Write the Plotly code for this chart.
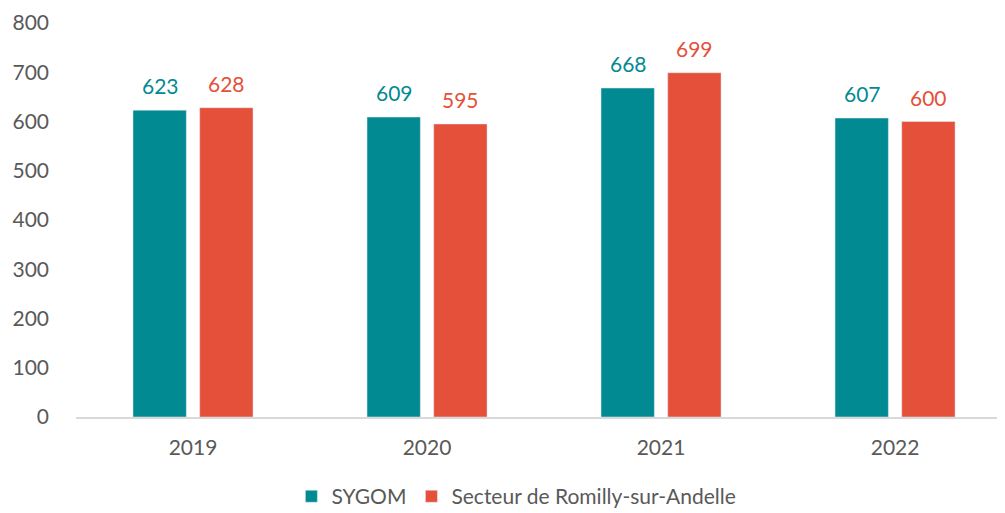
import plotly.graph_objects as go

years = ["2019", "2020", "2021", "2022"]
sygom = [623, 609, 668, 607]
romilly = [628, 595, 699, 600]

TEAL = "#028A92"
RED = "#E5503A"
GREY = "#595959"
FONT = "Lato, 'Open Sans', sans-serif"

fig = go.Figure()
fig.add_trace(go.Bar(x=years, y=sygom, name="SYGOM", marker_color=TEAL))
fig.add_trace(go.Bar(x=years, y=romilly, name="Secteur de Romilly-sur-Andelle", marker_color=RED))

# value labels above bars, offset to each bar of the group
for vals, color, shift in [(sygom, TEAL, -33), (romilly, RED, 33)]:
    for i, v in enumerate(vals):
        fig.add_annotation(x=i, y=v, text=str(v), showarrow=False,
                           xshift=shift, yshift=10, yanchor="bottom",
                           font=dict(color=color, size=21, family=FONT))

fig.update_layout(
    width=1005, height=513,
    paper_bgcolor="white", plot_bgcolor="white",
    barmode="group", bargap=0.43, bargroupgap=0.2,
    margin=dict(l=68, r=0, t=15, b=104),
    font=dict(family=FONT, color=GREY, size=21),
    showlegend=True,
    legend=dict(orientation="h", x=0.470, xanchor="center", y=-0.15, yanchor="top",
                font=dict(size=21, color=GREY), itemwidth=30),
    xaxis=dict(type="category", showgrid=False, showline=True, linecolor="#D9D9D9",
               linewidth=1.5, ticks="", tickfont=dict(size=21, color=GREY),
               automargin=False, range=[-0.5, 3.504], ticklabelstandoff=11),
    yaxis=dict(range=[0, 800], dtick=100, showgrid=False, zeroline=False,
               ticks="", tickfont=dict(size=21, color=GREY), automargin=False,
               ticklabelstandoff=26, ticklabeloverflow="allow"),
)
fig.write_html("out.html")
